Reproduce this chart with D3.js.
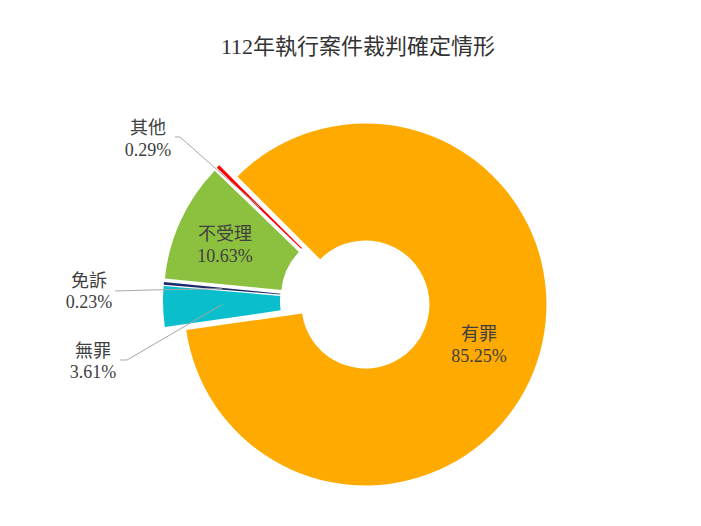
<!DOCTYPE html>
<html><head><meta charset="utf-8">
<script src="https://cdn.jsdelivr.net/npm/d3@7"></script>
<style>body{margin:0;background:#fff;}</style>
</head><body>
<svg id="c" width="701" height="526"></svg>
<script>
const title = "112年執行案件裁判確定情形";
const categories = ["有罪", "無罪", "免訴", "不受理", "其他"];
const values = [85.25, 3.61, 0.23, 10.63, 0.29];
const colors = ["#FFAA00", "#0ABECC", "#1F2B6B", "#8CC13F", "#FF0000"];

const svg = d3.select("#c");
const font = "'Liberation Serif','Noto Sans CJK TC',serif";
const cx = 355, cy = 301, R = 181, r = 64, explode = 11;

svg.append("text").attr("x", 358).attr("y", 54).attr("text-anchor", "middle")
  .attr("font-family", font).attr("font-size", 22).attr("fill", "#333")
  .text(title);

const pie = d3.pie().sort(null).startAngle(-Math.PI/4).endAngle(2*Math.PI - Math.PI/4);
const arcs = pie(values);
const arc = d3.arc().innerRadius(r).outerRadius(R);
const g = svg.append("g").attr("transform", `translate(${cx},${cy})`);

function off(d){ const m=(d.startAngle+d.endAngle)/2; return [explode*Math.sin(m), -explode*Math.cos(m)]; }

g.selectAll("path").data(arcs).enter().append("path")
  .attr("d", arc)
  .attr("transform", d => { const o=off(d); return `translate(${o[0]},${o[1]})`; })
  .attr("fill", (d,i) => colors[i]);

// label layout (absolute positions), inside labels have no leader
const layout = [
  {x:479, y1:340, y2:362},
  {x:93, y1:357, y2:378, lead:[[120,360],[127,360]]},
  {x:89, y1:287, y2:308, lead:[[115,291],[150,290]]},
  {x:225, y1:240, y2:262},
  {x:148, y1:134, y2:156, lead:[[175,137],[180,137]]}
];

arcs.forEach((d,i) => {
  const L = layout[i];
  if (L.lead) {
    const c = arc.centroid(d), o = off(d);
    const end = [cx + c[0] + o[0], cy + c[1] + o[1]];
    const pts = L.lead.concat([end]);
    svg.append("polyline").attr("points", pts.map(p=>p.join(",")).join(" "))
      .attr("fill","none").attr("stroke","#A6A6A6").attr("stroke-width",1);
  }
  svg.append("text").attr("x", L.x).attr("y", L.y1).attr("text-anchor","middle")
    .attr("font-family", font).attr("font-size", 18).attr("fill","#404040").text(categories[i]);
  svg.append("text").attr("x", L.x).attr("y", L.y2).attr("text-anchor","middle")
    .attr("font-family", font).attr("font-size", 18).attr("fill","#404040").text(values[i].toFixed(2) + "%");
});
</script>
</body></html>
